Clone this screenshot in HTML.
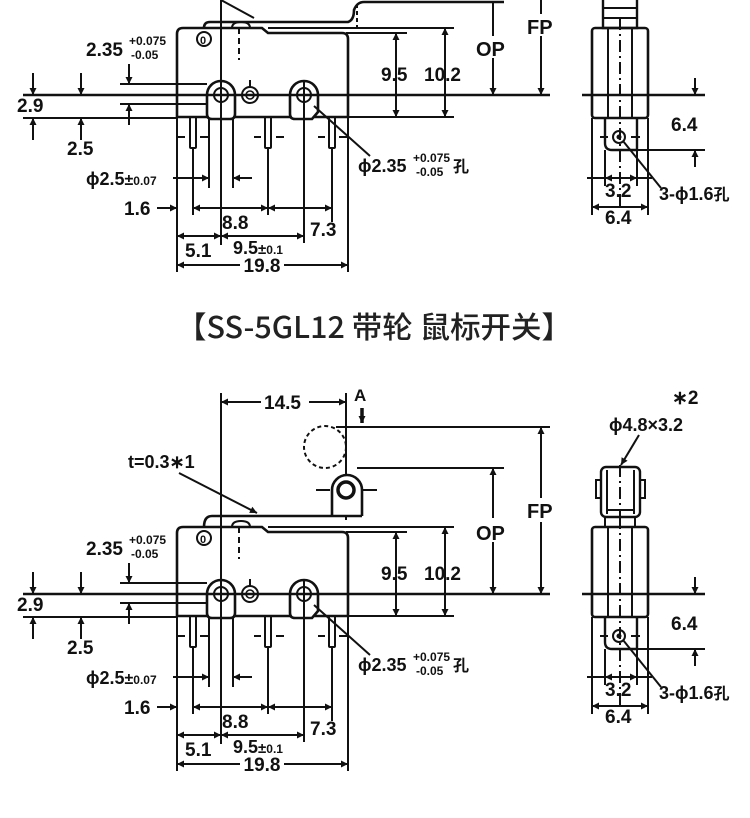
<!DOCTYPE html>
<html><head><meta charset="utf-8"><style>
html,body{margin:0;padding:0;background:#fff}
svg{display:block}
text{font-family:"Liberation Sans",Arial,sans-serif;font-weight:bold;fill:#111}
</style></head><body>
<svg width="750" height="818" viewBox="0 0 750 818" xmlns="http://www.w3.org/2000/svg" xmlns:xlink="http://www.w3.org/1999/xlink">
<defs>
<marker id="a" viewBox="0 0 10 10" refX="10" refY="5" markerWidth="10" markerHeight="7" orient="auto-start-reverse" markerUnits="userSpaceOnUse"><path d="M0,0 L10,5 L0,10 z" fill="#111"/></marker>
<g id="main" fill="none" stroke="#111" stroke-width="2">
 <path d="M177,117 L177,34 Q177,28 183,28 L262,28 L268,33 L342,33 Q348,33 348,39 L348,117 Z" stroke-width="2.6"/>
 <circle cx="204" cy="39" r="7" stroke-width="2"/>
 <path d="M232,28 Q232,22 241,22 Q250,22 250,28" stroke-width="2"/>
 <line x1="239" y1="28" x2="239" y2="60" stroke-dasharray="6,4"/>
 <path d="M207,95 A14,14 0 0 1 235,95 L235,114 Q235,119 230,119 L212,119 Q207,119 207,114 Z" stroke-width="2.6" fill="#fff"/>
 <circle cx="221" cy="95" r="7" stroke-width="2"/>
 <path d="M290,95 A14,14 0 0 1 318,95 L318,112 L312,119 L295,119 Q290,119 290,114 Z" stroke-width="2.6" fill="#fff"/>
 <circle cx="304" cy="95" r="7" stroke-width="2"/>
 <circle cx="250" cy="95" r="8" stroke-width="2"/>
 <circle cx="250" cy="95" r="4" stroke-width="1.6"/>
 <line x1="23" y1="95" x2="550" y2="95" stroke-width="2.4"/>
 <line x1="221" y1="92" x2="221" y2="245"/>
 <line x1="304" y1="80" x2="304" y2="243"/>
 <line x1="250" y1="80" x2="250" y2="88"/>
 <rect x="190" y="117" width="6" height="31" rx="1"/>
 <rect x="265" y="117" width="6" height="31" rx="1"/>
 <rect x="329" y="117" width="6" height="31" rx="1"/>
 <path d="M178,137 h7 M200,137 h8 M254,137 h7 M276,137 h8 M318,137 h7 M339,137 h8"/>
 <line x1="23" y1="118" x2="177" y2="118"/>
 <line x1="120" y1="84" x2="207" y2="84"/>
 <line x1="120" y1="104" x2="207" y2="104"/>
 <line x1="33" y1="73" x2="33" y2="95" marker-end="url(#a)"/>
 <line x1="33" y1="140" x2="33" y2="118" marker-end="url(#a)"/>
 <line x1="81" y1="73" x2="81" y2="95" marker-end="url(#a)"/>
 <line x1="81" y1="140" x2="81" y2="118" marker-end="url(#a)"/>
 <line x1="129" y1="64" x2="129" y2="84" marker-end="url(#a)"/>
 <line x1="129" y1="125" x2="129" y2="104" marker-end="url(#a)"/>
 <line x1="268" y1="28" x2="454" y2="28"/>
 <line x1="346" y1="33" x2="407" y2="33"/>
 <line x1="348" y1="117" x2="454" y2="117"/>
 <line x1="396" y1="33" x2="396" y2="117" marker-start="url(#a)" marker-end="url(#a)"/>
 <line x1="445" y1="28" x2="445" y2="117" marker-start="url(#a)" marker-end="url(#a)"/>
 <line x1="177" y1="117" x2="177" y2="272"/>
 <line x1="348" y1="117" x2="348" y2="272"/>
 <line x1="193" y1="148" x2="193" y2="215"/>
 <line x1="268" y1="148" x2="268" y2="215"/>
 <line x1="332" y1="148" x2="332" y2="222"/>
 <line x1="209" y1="119" x2="209" y2="188"/>
 <line x1="233" y1="119" x2="233" y2="188"/>
 <line x1="173" y1="178" x2="209" y2="178" marker-end="url(#a)"/>
 <line x1="252" y1="178" x2="233" y2="178" marker-end="url(#a)"/>
 <line x1="157" y1="208" x2="177" y2="208" marker-end="url(#a)"/>
 <line x1="193" y1="208" x2="268" y2="208" marker-start="url(#a)" marker-end="url(#a)"/>
 <line x1="268" y1="208" x2="332" y2="208" marker-start="url(#a)" marker-end="url(#a)"/>
 <line x1="177" y1="236" x2="221" y2="236" marker-start="url(#a)" marker-end="url(#a)"/>
 <line x1="221" y1="236" x2="304" y2="236" marker-start="url(#a)" marker-end="url(#a)"/>
 <line x1="177" y1="265" x2="348" y2="265" marker-start="url(#a)" marker-end="url(#a)"/>
 <line x1="314" y1="106" x2="370" y2="156"/>
</g>
<g id="mtext">
 <text x="200" y="44" font-size="11">0</text>
 <text x="17" y="112" font-size="19">2.9</text>
 <text x="67" y="155" font-size="19">2.5</text>
 <text x="86" y="56" font-size="19">2.35</text>
 <text x="129" y="45" font-size="12">+0.075</text>
 <text x="131" y="59" font-size="12">-0.05</text>
 <text x="381" y="81" font-size="19">9.5</text>
 <text x="424" y="81" font-size="19">10.2</text>
 <text x="86" y="185" font-size="18">ϕ2.5<tspan font-size="16">±</tspan><tspan font-size="12">0.07</tspan></text>
 <text x="124" y="215" font-size="19">1.6</text>
 <text x="222" y="229" font-size="19">8.8</text>
 <text x="310" y="236" font-size="19">7.3</text>
 <text x="185" y="257" font-size="19">5.1</text>
 <text x="233" y="254" font-size="18">9.5<tspan font-size="15">±</tspan><tspan font-size="12">0.1</tspan></text>
 <rect x="240" y="256" width="44" height="18" fill="#fff"/>
 <text x="262" y="272" font-size="19" text-anchor="middle">19.8</text>
 <text x="358" y="172" font-size="18">ϕ2.35</text>
 <text x="413" y="162" font-size="12">+0.075</text>
 <text x="416" y="176" font-size="12">-0.05</text>
 <text x="453" y="172" font-size="16" style="font-family:'Noto Sans CJK SC',sans-serif">孔</text>
</g>
<g id="side" fill="none" stroke="#111" stroke-width="2">
 <rect x="592" y="28" width="56" height="90" rx="3" stroke-width="2.6"/>
 <line x1="608" y1="28" x2="608" y2="118"/>
 <line x1="632" y1="28" x2="632" y2="118"/>
 <line x1="620" y1="18" x2="620" y2="210" stroke-dasharray="12,4,2,4"/>
 <line x1="582" y1="95" x2="705" y2="95" stroke-width="2.4"/>
 <path d="M605,118 L605,143 Q605,150 612,150 L637,150 L637,118" stroke-width="2.4"/>
 <circle cx="619" cy="137" r="6" stroke-width="2"/>
 <circle cx="619" cy="137" r="1.5" fill="#111"/>
 <path d="M600,137 h8 M631,137 h9"/>
 <line x1="637" y1="150" x2="705" y2="150"/>
 <line x1="695" y1="78" x2="695" y2="95" marker-end="url(#a)"/>
 <line x1="695" y1="167" x2="695" y2="150" marker-end="url(#a)"/>
 <line x1="592" y1="118" x2="592" y2="215"/>
 <line x1="648" y1="118" x2="648" y2="215"/>
 <line x1="605" y1="150" x2="605" y2="186"/>
 <line x1="637" y1="150" x2="637" y2="186"/>
 <line x1="587" y1="178" x2="652" y2="178"/>
 <line x1="605" y1="178" x2="637" y2="178" marker-start="url(#a)" marker-end="url(#a)"/>
 <line x1="592" y1="207" x2="648" y2="207" marker-start="url(#a)" marker-end="url(#a)"/>
 <line x1="623" y1="141" x2="661" y2="188"/>
</g>
<g id="stext">
 <text x="671" y="131" font-size="19">6.4</text>
 <text x="605" y="197" font-size="19">3.2</text>
 <text x="605" y="224" font-size="19">6.4</text>
 <text x="659" y="200" font-size="18">3-ϕ1.6<tspan style="font-family:'Noto Sans CJK SC',sans-serif" font-size="16">孔</tspan></text>
</g>
</defs>

<use href="#main" xlink:href="#main"/><use href="#mtext" xlink:href="#mtext"/><use href="#side" xlink:href="#side"/><use href="#stext" xlink:href="#stext"/>
<g transform="translate(0,499)"><use href="#main" xlink:href="#main"/><use href="#mtext" xlink:href="#mtext"/><use href="#side" xlink:href="#side"/><use href="#stext" xlink:href="#stext"/></g>

<g fill="none" stroke="#111" stroke-width="2">
 <rect x="603" y="-4" width="34" height="32" stroke-width="2.4"/>
 <line x1="603" y1="8" x2="637" y2="8"/>
 <line x1="603" y1="18" x2="637" y2="18"/>
 <line x1="221" y1="0" x2="221" y2="95"/>
 <line x1="221" y1="0" x2="254" y2="18"/>
 <path d="M204,28 Q204,22 210,22 L348,22 Q354,20 354,10 Q357,2 364,2 L504,2" stroke-width="2.6"/>
 <line x1="357" y1="4" x2="357" y2="28" stroke-dasharray="4,3"/>
 <line x1="493" y1="2" x2="493" y2="95" marker-end="url(#a)"/>
 <line x1="541" y1="0" x2="541" y2="95" marker-end="url(#a)"/>
</g>
<rect x="474" y="36" width="36" height="22" fill="#fff"/>
<text x="476" y="56" font-size="20">OP</text>
<rect x="525" y="14" width="32" height="22" fill="#fff"/>
<text x="527" y="34" font-size="20">FP</text>

<text x="176" y="338" font-size="30" textLength="396" lengthAdjust="spacingAndGlyphs" style="font-family:'Noto Sans CJK SC',sans-serif;font-weight:500;fill:#222">【SS-5GL12 带轮 鼠标开关】</text>

<g fill="none" stroke="#111" stroke-width="2">
 <line x1="221" y1="393" x2="221" y2="594"/>
 <line x1="346" y1="393" x2="346" y2="520"/>
 <line x1="221" y1="402" x2="346" y2="402" marker-start="url(#a)" marker-end="url(#a)"/>
 <line x1="362" y1="408" x2="362" y2="423" stroke-width="3.5" marker-end="url(#a)"/>
 <circle cx="325" cy="447" r="21" stroke-dasharray="4,3" stroke-width="2"/>
 <line x1="336" y1="427" x2="550" y2="427"/>
 <line x1="357" y1="468" x2="504" y2="468"/>
 <path d="M332,516 L332,490 A15,15 0 0 1 362,490 L362,516" stroke-width="2.6" fill="#fff"/>
 <circle cx="346" cy="490" r="8" stroke-width="3.5"/>
 <line x1="316" y1="490" x2="330" y2="490"/>
 <line x1="362" y1="490" x2="377" y2="490"/>
 <path d="M204,527 Q204,516 212,516 L362,516" stroke-width="2.6"/>
 <line x1="179" y1="473" x2="257" y2="513" marker-end="url(#a)"/>
 <line x1="493" y1="468" x2="493" y2="594" marker-start="url(#a)" marker-end="url(#a)"/>
 <line x1="541" y1="427" x2="541" y2="594" marker-start="url(#a)" marker-end="url(#a)"/>
 <rect x="601" y="467" width="39" height="50" rx="5" stroke-width="2.4" fill="#fff"/>
 <line x1="607" y1="470" x2="607" y2="514"/>
 <line x1="634" y1="470" x2="634" y2="514"/>
 <rect x="596" y="480" width="5" height="18"/>
 <rect x="640" y="480" width="5" height="18"/>
 <path d="M605,517 L605,527 M635,517 L635,527 M607,510 L634,510"/>
 <line x1="620" y1="465" x2="620" y2="527" stroke-dasharray="12,4,2,4"/>
 <line x1="639" y1="435" x2="621" y2="465" marker-end="url(#a)"/>
</g>
<rect x="261" y="393" width="48" height="20" fill="#fff"/>
<text x="264" y="409" font-size="19">14.5</text>
<text x="354" y="401" font-size="17">A</text>
<rect x="474" y="518" width="36" height="24" fill="#fff"/>
<text x="476" y="540" font-size="20">OP</text>
<rect x="525" y="498" width="32" height="24" fill="#fff"/>
<text x="527" y="518" font-size="20">FP</text>
<text x="128" y="468" font-size="18">t=0.3∗1</text>
<text x="672" y="404" font-size="19">∗2</text>
<text x="609" y="431" font-size="18">ϕ4.8×3.2</text>
</svg>
</body></html>
